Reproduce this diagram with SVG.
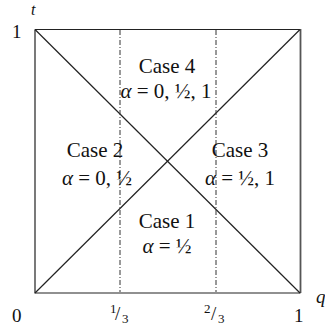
<svg xmlns="http://www.w3.org/2000/svg" width="325" height="331" viewBox="0 0 325 331">
<style>
.ln{stroke:#222;stroke-width:1.2;fill:none}
.dd{stroke:#333;stroke-width:1;stroke-dasharray:5,2,1,2;fill:none}
.t{font-family:"Liberation Serif","Times New Roman",serif;fill:#111}
.c{font-size:21px;text-anchor:middle}
.ax{font-size:19px}
.it{font-style:italic}
</style>
<rect width="325" height="331" fill="#fff"/>
<g id="frame">
<path class="ln" d="M35,29.5 H300.5 M35,29.5 V293 H300.5"/>
<line x1="300.5" y1="29" x2="300.5" y2="293" stroke="#555" stroke-width="1.8"/>
</g>
<g id="connectors">
<line class="ln" x1="35" y1="29.5" x2="300" y2="293"/>
<line class="ln" x1="35" y1="293" x2="300" y2="29.5"/>
<line class="dd" x1="120" y1="30" x2="120" y2="292"/>
<line class="dd" x1="216" y1="30" x2="216" y2="292"/>
</g>
<g id="case4"><text class="t c" x="167" y="73">Case 4</text><text class="t c" x="166" y="98"><tspan class="it">α</tspan> = 0, ½, 1</text></g>
<g id="case2"><text class="t c" x="95" y="157">Case 2</text><text class="t c" x="97" y="185"><tspan class="it">α</tspan> = 0, ½</text></g>
<g id="case3"><text class="t c" x="240" y="157">Case 3</text><text class="t c" x="240" y="185"><tspan class="it">α</tspan> = ½, 1</text></g>
<g id="case1"><text class="t c" x="167" y="228">Case 1</text><text class="t c" x="167" y="253"><tspan class="it">α</tspan> = ½</text></g>
<g id="axes">
<text class="t it" x="31" y="15" font-size="16">t</text>
<text class="t ax" x="12" y="38">1</text>
<text class="t ax" x="12" y="322">0</text>
<text class="t ax" x="294" y="322">1</text>
<text class="t ax it" x="316" y="303">q</text>
<text class="t" x="110" y="313" font-size="13">1</text><text class="t" x="115" y="320" font-size="19">/</text><text class="t" x="122" y="323" font-size="13">3</text>
<text class="t" x="204" y="313" font-size="13">2</text><text class="t" x="211" y="320" font-size="19">/</text><text class="t" x="218" y="323" font-size="13">3</text>
</g>
</svg>
